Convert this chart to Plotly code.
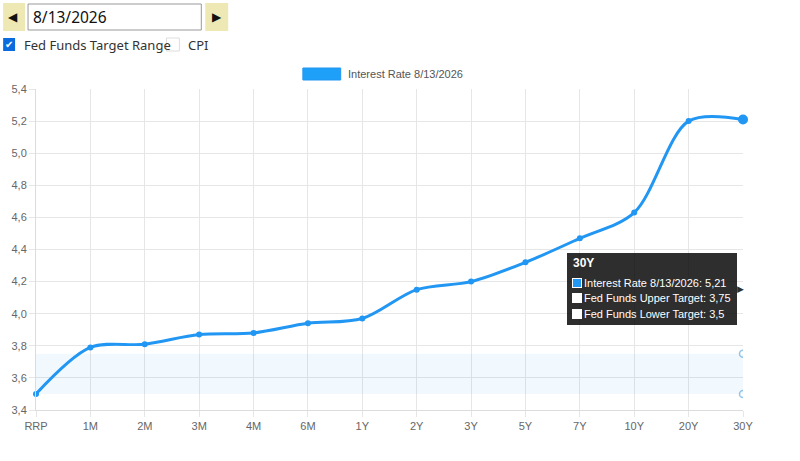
import plotly.graph_objects as go

categories = ["RRP", "1M", "2M", "3M", "4M", "6M", "1Y", "2Y", "3Y", "5Y", "7Y", "10Y", "20Y", "30Y"]
rates = [3.50, 3.79, 3.81, 3.87, 3.88, 3.94, 3.97, 4.15, 4.20, 4.32, 4.47, 4.63, 5.20, 5.21]
fed_upper = [3.75, 3.75, 3.75, 3.75, 3.75, 3.75, 3.75, 3.75, 3.75, 3.75, 3.75, 3.75, 3.75, 3.75]
fed_lower = [3.5, 3.5, 3.5, 3.5, 3.5, 3.5, 3.5, 3.5, 3.5, 3.5, 3.5, 3.5, 3.5, 3.5]
y_ticks = [3.4, 3.6, 3.8, 4.0, 4.2, 4.4, 4.6, 4.8, 5.0, 5.2, 5.4]
date_label = "8/13/2026"
series_name = "Interest Rate " + date_label
hover_idx = len(categories) - 1

W, H = 800, 461
L, R, T, B = 33, 743, 89, 410

def px(x):
    return (x - L) / (R - L)

def py(y):
    return (B - y) / (B - T)

BLUE = "#2196F3"
FONT = "Liberation Sans, Arial, sans-serif"
UIFONT = "Noto Sans, Open Sans, sans-serif"
TIPBG = "rgba(0,0,0,0.82)"

def fmt(v):
    s = ("%.2f" % v).rstrip("0").rstrip(".")
    return s.replace(".", ",")

fig = go.Figure()

fig.add_trace(go.Scatter(
    x=categories, y=fed_lower, mode="lines+markers", name="Fed Funds Lower Target",
    line=dict(width=0, color="rgba(0,0,0,0)"),
    marker=dict(size=[0] * hover_idx + [7], color="rgba(0,0,0,0)",
                line=dict(width=1.5, color="#6aaee0")),
    cliponaxis=True, showlegend=False, hoverinfo="skip"))
fig.add_trace(go.Scatter(
    x=categories, y=fed_upper, mode="lines+markers", name="Fed Funds Upper Target",
    line=dict(width=0, color="rgba(0,0,0,0)"),
    fill="tonexty", fillcolor="rgba(33,150,243,0.06)",
    marker=dict(size=[0] * hover_idx + [7], color="rgba(0,0,0,0)",
                line=dict(width=1.5, color="#6aaee0")),
    cliponaxis=True, showlegend=False, hoverinfo="skip"))
fig.add_trace(go.Scatter(
    x=categories, y=rates, mode="lines+markers", name=series_name,
    line=dict(color=BLUE, width=3, shape="spline", smoothing=0.9),
    marker=dict(size=[6] * hover_idx + [10], color=BLUE, opacity=1,
                line=dict(width=0)),
    cliponaxis=False, showlegend=False, hoverinfo="skip"))

shapes = []
annotations = []

def label(x, y, text, size, color, family, xanchor="left"):
    annotations.append(dict(xref="paper", yref="paper", x=px(x), y=py(y),
                            xanchor=xanchor, yanchor="middle", showarrow=False,
                            text=text, font=dict(family=family, size=size, color=color)))

# Legend box
shapes.append(dict(type="rect", xref="paper", yref="paper",
                   x0=px(301), x1=px(339), y0=py(80), y1=py(68),
                   fillcolor="#1EA0F8", line=dict(width=1, color="#2196F3")))
label(344, 74, series_name, 11, "#555", FONT)

# Top controls
shapes.append(dict(type="rect", xref="paper", yref="paper",
                   x0=px(0), x1=px(22), y0=py(31), y1=py(3),
                   fillcolor="#EEE8B4", line=dict(width=0)))
shapes.append(dict(type="rect", xref="paper", yref="paper",
                   x0=px(203), x1=px(226), y0=py(31), y1=py(3),
                   fillcolor="#EEE8B4", line=dict(width=0)))
shapes.append(dict(type="rect", xref="paper", yref="paper",
                   x0=px(25), x1=px(199), y0=py(30), y1=py(4),
                   fillcolor="#FFFFFF", line=dict(width=1, color="#999")))
label(10, 17, "◀", 12, "#111", "DejaVu Sans", "center")
label(215, 17, "▶", 12, "#111", "DejaVu Sans", "center")
label(28, 17, date_label, 15.5, "#111", UIFONT)
# checkboxes
shapes.append(dict(type="rect", xref="paper", yref="paper",
                   x0=px(0), x1=px(12), y0=py(51), y1=py(38),
                   fillcolor="#0B6BDE", line=dict(width=0)))
label(6, 44.5, "✔", 10, "#fff", "DejaVu Sans", "center")
label(19, 45, "Fed Funds Target Range", 13, "#333", UIFONT)
shapes.append(dict(type="rect", xref="paper", yref="paper",
                   x0=px(164), x1=px(177), y0=py(51), y1=py(38),
                   fillcolor="#fff", line=dict(width=1, color="#ddd")))
label(184, 45, "CPI", 13, "#333", UIFONT)

# Tooltip (static box anchored at the hovered category, at the average of the 3 values)
avg_y = (rates[hover_idx] + fed_upper[hover_idx] + fed_lower[hover_idx]) / 3
hx = categories[hover_idx]

def tip(text, xshift, yshift, **kw):
    d = dict(xref="x", yref="y", x=hx, y=avg_y, showarrow=False,
             xanchor="left", yanchor="middle", xshift=xshift, yshift=yshift,
             text=text, font=dict(family=FONT, size=11, color="#fff"))
    d.update(kw)
    annotations.append(d)

tip(" ", -176, 0, width=170, height=72, bgcolor=TIPBG, borderpad=0,
    bordercolor="rgba(0,0,0,0)", borderwidth=0)
tip("▶", -8, 0, font=dict(family="DejaVu Sans", size=9, color=TIPBG))
tip("<b>%s</b>" % hx, -172, 26, font=dict(family=FONT, size=12, color="#fff"))
rows = [
    (BLUE, "%s: %s" % (series_name, fmt(rates[hover_idx]))),
    ("#ffffff", "Fed Funds Upper Target: %s" % fmt(fed_upper[hover_idx])),
    ("#ffffff", "Fed Funds Lower Target: %s" % fmt(fed_lower[hover_idx])),
]
row_shifts = [6, -9, -25]
for (col, txt), ys in zip(rows, row_shifts):
    tip(" ", -171, ys, width=8, height=8, bgcolor=col, bordercolor="#ffffff",
        borderwidth=1, borderpad=0)
    tip(txt, -161, ys)

fig.update_layout(
    width=W, height=H,
    margin=dict(l=L, r=W - R, t=T, b=H - B, pad=0),
    paper_bgcolor="#fff", plot_bgcolor="#fff",
    separators=",.",
    shapes=shapes, annotations=annotations,
    showlegend=False, hovermode=False,
    font=dict(family=FONT, size=11, color="#666"),
)
fig.update_xaxes(
    type="category", categoryorder="array", categoryarray=categories,
    range=[0, len(categories) - 1],
    showgrid=True, gridcolor="#e6e6e6", gridwidth=1,
    showline=True, linecolor="#dcdcdc", linewidth=1,
    ticks="outside", ticklen=6, tickcolor="#e6e6e6",
    tickfont=dict(family=FONT, size=11, color="#666"), zeroline=False,
)
fig.update_yaxes(
    range=[3.4, 5.4], tickvals=y_ticks, tickformat=".1f",
    showgrid=True, gridcolor="#e6e6e6", gridwidth=1,
    showline=True, linecolor="#dcdcdc", linewidth=1,
    ticks="outside", ticklen=6, tickcolor="#e6e6e6",
    tickfont=dict(family=FONT, size=11, color="#666"), zeroline=False,
)

fig.write_html("out.html", config={"displayModeBar": False},
               post_script="document.body.style.margin='0px';")
